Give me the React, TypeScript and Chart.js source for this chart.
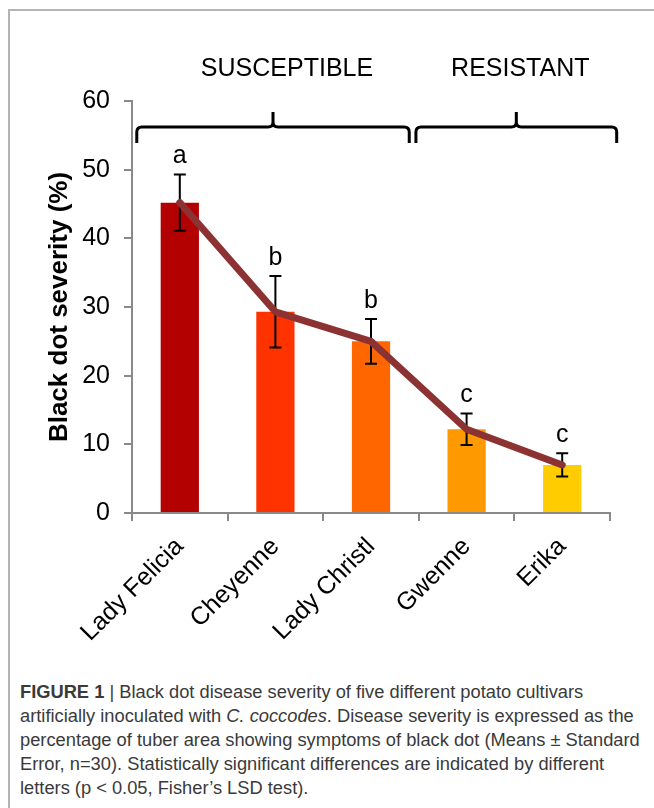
import React, { useEffect, useRef } from 'react';
import { Chart, registerables } from 'chart.js';

Chart.register(...registerables);

const categories = ['Lady Felicia', 'Cheyenne', 'Lady Christl', 'Gwenne', 'Erika'];
const means = [45.2, 29.3, 25.0, 12.2, 7.0];
const stdErrors = [4.1, 5.2, 3.25, 2.3, 1.7];
const letters = ['a', 'b', 'b', 'c', 'c'];
const barColors = ['#B30000', '#FF3300', '#FF6600', '#FF9900', '#FFCC00'];
const groupLabels = ['SUSCEPTIBLE', 'RESISTANT'];
const groupFirst = [0, 3];
const groupLast = [2, 4];
const yMin = 0;
const yMax = 60;
const yStep = 10;
const yTitle = 'Black dot severity (%)';

const FONT = "'Liberation Sans', Arial, sans-serif";

const overlayPlugin = {
  id: 'overlay',
  afterDatasetDraw(chart: any, args: any) {
    if (args.index !== 0) return;
    const { ctx } = chart;
    const y = chart.scales.y;
    const meta = chart.getDatasetMeta(0);
    ctx.save();
    ctx.strokeStyle = '#000';
    ctx.lineWidth = 2;
    means.forEach((m, i) => {
      const x = meta.data[i].x;
      const top = y.getPixelForValue(m + stdErrors[i]);
      const bot = y.getPixelForValue(m - stdErrors[i]);
      ctx.beginPath();
      ctx.moveTo(x, top);
      ctx.lineTo(x, bot);
      ctx.moveTo(x - 6, top);
      ctx.lineTo(x + 6, top);
      ctx.moveTo(x - 6, bot);
      ctx.lineTo(x + 6, bot);
      ctx.stroke();
    });
    ctx.restore();
  },
  afterDraw(chart: any) {
    const { ctx } = chart;
    const y = chart.scales.y;
    const xs = chart.scales.x;
    const meta = chart.getDatasetMeta(0);
    ctx.save();
    // significance letters
    ctx.fillStyle = '#000';
    ctx.font = `25px ${FONT}`;
    ctx.textAlign = 'center';
    ctx.textBaseline = 'alphabetic';
    means.forEach((m, i) => {
      const x = meta.data[i].x;
      const top = y.getPixelForValue(m + stdErrors[i]);
      ctx.fillText(letters[i], x, top - 11);
    });
    // group brackets
    const w = xs.getPixelForValue(1) - xs.getPixelForValue(0);
    const padL = [-0.45, -0.53];
    const padR = [0.4, 0.57];
    const yH = y.getPixelForValue(56.2);
    const yEnd = y.getPixelForValue(53.9);
    const yTop = y.getPixelForValue(58.4);
    const yLab = y.getPixelForValue(63.7);
    const r = 5;
    ctx.strokeStyle = '#000';
    ctx.lineWidth = 3;
    ctx.lineJoin = 'round';
    ctx.lineCap = 'butt';
    groupLabels.forEach((lab, g) => {
      const x0 = xs.getPixelForValue(groupFirst[g]) + padL[g] * w;
      const x1 = xs.getPixelForValue(groupLast[g]) + padR[g] * w;
      const xm = (x0 + x1) / 2;
      ctx.beginPath();
      ctx.moveTo(x0, yEnd);
      ctx.lineTo(x0, yH + r);
      ctx.quadraticCurveTo(x0, yH, x0 + r, yH);
      ctx.lineTo(xm - r, yH);
      ctx.quadraticCurveTo(xm, yH, xm, yH - r);
      ctx.lineTo(xm, yTop);
      ctx.moveTo(xm, yH - r);
      ctx.quadraticCurveTo(xm, yH, xm + r, yH);
      ctx.lineTo(x1 - r, yH);
      ctx.quadraticCurveTo(x1, yH, x1, yH + r);
      ctx.lineTo(x1, yEnd);
      ctx.stroke();
      ctx.font = `25px ${FONT}`;
      ctx.fillStyle = '#000';
      ctx.textAlign = 'center';
      ctx.fillText(lab, xm + (g === 0 ? 14 : 4), yLab);
    });
    ctx.restore();
  },
};

export default function App() {
  const ref = useRef<HTMLCanvasElement | null>(null);
  useEffect(() => {
    if (!ref.current) return;
    const chart = new Chart(ref.current, {
      type: 'bar',
      data: {
        labels: categories,
        datasets: [
          {
            type: 'bar',
            data: means,
            backgroundColor: barColors,
            borderWidth: 0,
            categoryPercentage: 1,
            barPercentage: 0.4,
            order: 2,
          } as any,
          {
            type: 'line',
            data: means,
            borderColor: '#8C3232',
            borderWidth: 7,
            pointRadius: 0,
            tension: 0,
            borderCapStyle: 'round',
            borderJoinStyle: 'round',
            order: 1,
          } as any,
        ],
      },
      options: {
        animation: false,
        responsive: false,
        maintainAspectRatio: false,
        layout: { padding: { left: 44, top: 101, right: 44, bottom: 0 } },
        plugins: { legend: { display: false }, tooltip: { enabled: false } },
        scales: {
          x: {
            offset: true,
            grid: {
              offset: true,
              drawOnChartArea: false,
              drawTicks: true,
              tickLength: 8,
              color: '#898989',
              lineWidth: 2,
            },
            border: { color: '#898989', width: 2 },
            ticks: {
              color: '#000',
              font: { family: FONT, size: 25 },
              minRotation: 45,
              maxRotation: 45,
              autoSkip: false,
              padding: 11,
              labelOffset: 0,
            },
            afterFit(scale: any) {
              scale.height = 147;
            },
          },
          y: {
            min: yMin,
            max: yMax,
            grid: {
              drawOnChartArea: false,
              drawTicks: true,
              tickLength: 8,
              color: '#898989',
              lineWidth: 2,
            },
            border: { color: '#898989', width: 2 },
            ticks: {
              stepSize: yStep,
              color: '#000',
              font: { family: FONT, size: 25 },
              padding: 14,
            },
            title: {
              display: true,
              text: yTitle,
              color: '#000',
              font: { family: FONT, size: 26, weight: 'bold' },
              padding: 0,
            },
            afterFit(scale: any) {
              scale.width = 88;
            },
          },
        },
      },
      plugins: [overlayPlugin],
    });
    return () => chart.destroy();
  }, []);

  return (
    <div style={{ position: 'absolute', left: 0, top: 0, width: 654, height: 808, background: '#fff', overflow: 'hidden' }}>
      <div
        style={{
          position: 'absolute',
          left: 8,
          top: 9,
          right: 0,
          bottom: 0,
          borderLeft: '2px solid #b4b4b4',
          borderTop: '2px solid #b4b4b4',
        }}
      />
      <canvas ref={ref} width={654} height={660} style={{ position: 'absolute', left: 0, top: 0, width: 654, height: 660 }} />
      <div
        style={{
          position: 'absolute',
          left: 20,
          top: 680,
          width: 634,
          fontFamily: FONT,
          fontSize: 18.3,
          lineHeight: '24px',
          color: '#3a3a3a',
          whiteSpace: 'nowrap',
        }}
      >
        <b>FIGURE 1</b> | Black dot disease severity of five different potato cultivars
        <br />
        artificially inoculated with <i>C. coccodes</i>. Disease severity is expressed as the
        <br />
        percentage of tuber area showing symptoms of black dot (Means ± Standard
        <br />
        Error, n=30). Statistically significant differences are indicated by different
        <br />
        letters (p &lt; 0.05, Fisher’s LSD test).
      </div>
    </div>
  );
}
